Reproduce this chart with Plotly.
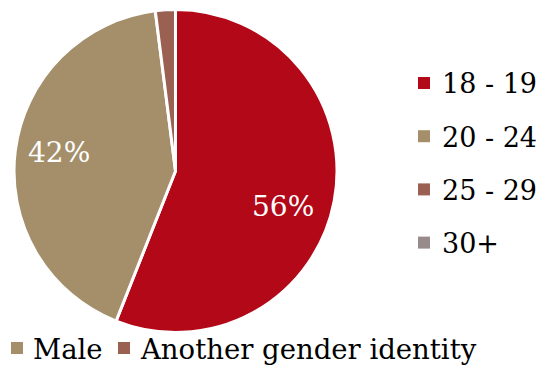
import plotly.graph_objects as go

# Age distribution of respondents (percent)
age_groups = ["18 - 19", "20 - 24", "25 - 29", "30+"]
age_shares = [56, 42, 2, 0]
age_colors = ["#B20818", "#A48F6A", "#9A6153", "#978B8C"]

# Legend carried over from the gender breakdown
gender_labels = ["Male", "Another gender identity"]
gender_colors = ["#A48F6A", "#9A6153"]

W, H = 542, 365
FONT = "Rockwell, 'DejaVu Serif', serif"


def px(x):
    return x / W


def py(y):
    return 1 - y / H


cx, cy, r = 175.5, 171, 161.5

fig = go.Figure(
    go.Pie(
        labels=age_groups,
        values=age_shares,
        sort=False,
        direction="clockwise",
        rotation=0,
        marker=dict(colors=age_colors, line=dict(color="white", width=3)),
        textinfo="none",
        hoverinfo="label+percent",
        showlegend=False,
        domain=dict(x=[px(cx - r), px(cx + r)], y=[py(cy + r), py(cy - r)]),
    )
)

# Percentage labels on the two large slices
label_pos = {0: (282.5, 206), 1: (59, 153)}
annotations = []
for i, (lx, ly) in label_pos.items():
    annotations.append(
        dict(
            x=px(lx), y=py(ly), xref="paper", yref="paper",
            text=f"{age_shares[i]}%", showarrow=False,
            xanchor="center", yanchor="middle",
            font=dict(family=FONT, size=28, color="white"),
        )
    )

shapes = []
# Right-hand legend for the age groups
for k, (name, col) in enumerate(zip(age_groups, age_colors)):
    yc = 83 + k * 53.2
    shapes.append(
        dict(type="rect", xref="paper", yref="paper",
             x0=px(418), x1=px(430), y0=py(yc + 6), y1=py(yc - 6),
             fillcolor=col, line=dict(width=0))
    )
    annotations.append(
        dict(x=px(440), y=py(yc + 1), xref="paper", yref="paper",
             text=name, showarrow=False, xanchor="left", yanchor="middle",
             font=dict(family=FONT, size=27, color="black"))
    )

# Bottom legend row
for (sx, tx), name, col in zip([(11, 31), (118, 138)], gender_labels, gender_colors):
    shapes.append(
        dict(type="rect", xref="paper", yref="paper",
             x0=px(sx), x1=px(sx + 12), y0=py(354), y1=py(342),
             fillcolor=col, line=dict(width=0))
    )
    annotations.append(
        dict(x=px(tx), y=py(349), xref="paper", yref="paper",
             text=name, showarrow=False, xanchor="left", yanchor="middle",
             font=dict(family=FONT, size=27.5, color="black"))
    )

fig.update_layout(
    width=W, height=H,
    margin=dict(l=0, r=0, t=0, b=0),
    paper_bgcolor="white", plot_bgcolor="white",
    shapes=shapes, annotations=annotations,
)

fig.write_html("out.html")
